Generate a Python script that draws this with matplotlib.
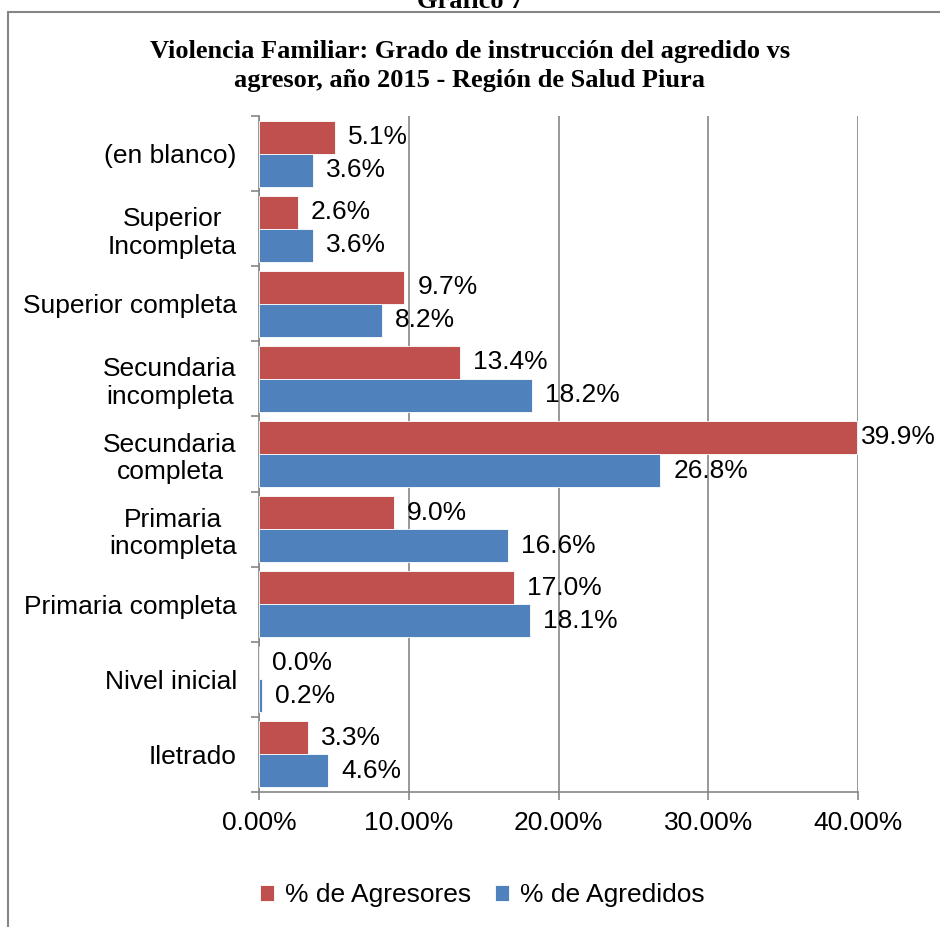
import matplotlib.pyplot as plt
import numpy as np
from matplotlib.patches import Rectangle

categorias = ["(en blanco)", "Superior\nIncompleta", "Superior completa",
              "Secundaria\nincompleta", "Secundaria\ncompleta", "Primaria\nincompleta",
              "Primaria completa", "Nivel inicial", "Iletrado"]
agresores = [5.1, 2.6, 9.7, 13.4, 39.9, 9.0, 17.0, 0.0, 3.3]
agredidos = [3.6, 3.6, 8.2, 18.2, 26.8, 16.6, 18.1, 0.2, 4.6]
xticks = [0, 10, 20, 30, 40]

rojo = "#c0504d"
azul = "#4f81bd"
gris = "#868686"
fs = 19

plt.rcParams["font.family"] = ["Liberation Sans", "DejaVu Sans"]

fig = plt.figure(figsize=(9.4, 9.27), dpi=100)
ax = fig.add_axes([259 / 940, 1 - 792 / 927, (858 - 259) / 940, (792 - 116) / 927])

# marco del grafico
fig.patches.append(Rectangle((8 / 940, -0.01), 1.0, 1 - 12 / 927 + 0.01,
                             transform=fig.transFigure, fill=False,
                             edgecolor=gris, linewidth=1.5))

n = len(categorias)
y = np.arange(n)[::-1].astype(float)
h = 0.44
ax.barh(y + h / 2, agresores, height=h, color=rojo, edgecolor="white",
        linewidth=0.6, label="% de Agresores", zorder=3)
ax.barh(y - h / 2, agredidos, height=h, color=azul, edgecolor="white",
        linewidth=0.6, label="% de Agredidos", zorder=3)

ax.set_xlim(0, 40)
ax.set_ylim(-0.5, n - 0.5)

# etiquetas de datos
px = 40 / (858 - 259)
for yy, v in zip(y + h / 2, agresores):
    off = 13 if v < 38 else 4
    ax.text(v + off * px, yy, f"{v:.1f}%", va="center", ha="left", fontsize=fs,
            clip_on=False, zorder=4)
for yy, v in zip(y - h / 2, agredidos):
    off = 13 if v < 38 else 4
    ax.text(v + off * px, yy, f"{v:.1f}%", va="center", ha="left", fontsize=fs,
            clip_on=False, zorder=4)

ax.set_xticks(xticks)
ax.set_xticklabels([f"{t:.2f}%" for t in xticks], fontsize=fs)
ax.set_yticks(y)
ax.set_yticklabels(categorias, fontsize=fs, ha="right", multialignment="center")
ax.set_yticks(np.arange(n + 1) - 0.5, minor=True)
ax.tick_params(axis="y", which="major", length=0, pad=16)
ax.tick_params(axis="y", which="minor", length=6, color=gris, width=1.2)
ax.tick_params(axis="x", length=6, color=gris, width=1.2, pad=8)

ax.grid(axis="x", color=gris, linewidth=1.2, zorder=0)
for s in ["top", "right"]:
    ax.spines[s].set_visible(False)
for s in ["left", "bottom"]:
    ax.spines[s].set_color(gris)
    ax.spines[s].set_linewidth(1.2)

fig.text(0.5, 1 - 1 / 927, "Gráfico 7", ha="center", va="center", fontsize=fs,
         fontweight="bold", family="Liberation Serif")
fig.text(0.5, 1 - 66 / 927,
         "Violencia Familiar: Grado de instrucción del agredido vs\nagresor, año 2015 - Región de Salud Piura",
         ha="center", va="center", fontsize=fs, fontweight="bold",
         family="Liberation Serif", linespacing=1.3)

fig.legend(loc="center", bbox_to_anchor=(482 / 940, 1 - 895 / 927), ncol=2, frameon=False,
           fontsize=fs, handlelength=0.55, handleheight=0.55, handletextpad=0.4,
           columnspacing=0.9)

fig.savefig("out.png", dpi=100)
